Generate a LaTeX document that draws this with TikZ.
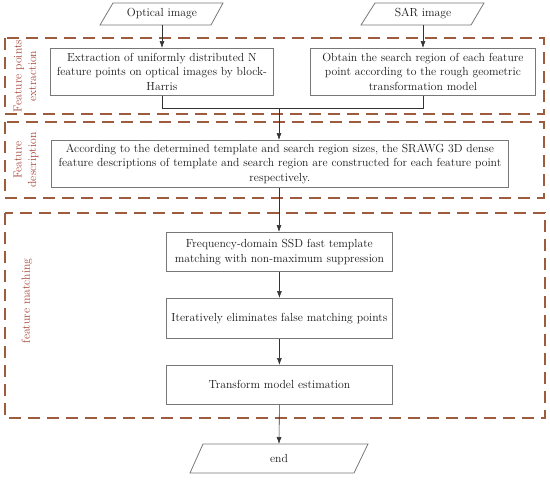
\documentclass[tikz,border=0pt]{standalone}
\usetikzlibrary{arrows.meta}
\definecolor{dashbrown}{RGB}{158,92,62}
\definecolor{labred}{RGB}{165,72,58}
\definecolor{boxgray}{RGB}{120,120,120}
\begin{document}
\begin{tikzpicture}[x=1pt,y=-1pt,
  every node/.style={font=\fontsize{11.7}{14.5}\selectfont, inner sep=0pt, text=black!90},
  procbox/.style={draw=boxgray, line width=0.8pt, align=center, anchor=north west},
  grp/.style={draw=dashbrown, line width=1.8pt, dash pattern=on 12pt off 7pt},
  grplabel/.style={text=labred, rotate=90, align=center},
  conn/.style={draw=black!80, line width=0.6pt},
  arr/.style={conn, -{Latex[length=7pt,width=5pt]}},
  para/.style={draw=boxgray, line width=0.8pt}
]
\useasboundingbox (0,0) rectangle (550,480);

% group frames
\draw[grp] (5,38) rectangle (544,114);
\draw[grp] (5,122) rectangle (544,198);
\draw[grp] (5,213) rectangle (545,418);

\node[grplabel] (lab1) at (25,76) {Feature points\\extraction};
\node[grplabel] (lab2) at (26,160) {Feature\\description};
\node[grplabel] (lab3) at (27,301) {feature matching};

% inputs
\draw[para] (113,3) -- (223,3) -- (211,25) -- (100,25) -- cycle;
\node (opt) at (162,14) {Optical image};
\coordinate (optb) at (162,25);
\draw[para] (375,3) -- (484,3) -- (471,25) -- (361,25) -- cycle;
\node (sar) at (423,14) {SAR image};
\coordinate (sarb) at (423,25);

% boxes
\node[procbox, minimum width=223pt, minimum height=47pt] (b1) at (50,48) {};
\node (t1) at (b1.center) [align=center] {Extraction of uniformly distributed N\\feature points on optical images by block-\\Harris};
\node[procbox, minimum width=225pt, minimum height=47pt] (b2) at (310,48) {};
\node (t2) at (b2.center) [align=center] {Obtain the search region of each feature\\point according to the rough geometric\\transformation model};
\node[procbox, minimum width=457pt, minimum height=47pt] (b3) at (51,140) {};
\node (t3) at (b3.center) [align=center] {According to the determined template and search region sizes, the SRAWG 3D dense\\feature descriptions of template and search region are constructed for each feature point\\respectively.};
\node[procbox, minimum width=226pt, minimum height=39pt] (b4) at (166,232) {};
\node (t4) at (b4.center) [align=center] {Frequency-domain SSD fast template\\matching with non-maximum suppression};
\node[procbox, minimum width=226pt, minimum height=40pt] (b5) at (166,298) {};
\node (t5) at (b5.center) {Iteratively eliminates false matching points};
\node[procbox, minimum width=226pt, minimum height=39pt] (b6) at (166,365) {};
\node (t6) at (b6.center) {Transform model estimation};

% end
\draw[para] (203,444) -- (368,444) -- (354,473) -- (190,473) -- cycle;
\node (endn) at (279,458.5) {end};
\coordinate (endt) at (279,444);

% connectors
\coordinate (m1) at (162,108);
\coordinate (m2) at (423,108);
\coordinate (mm) at (279,108);
\draw[arr] (optb) -- (162,48);
\draw[arr] (sarb) -- (423,48);
\draw[conn] (b1.south -| m1) -- (m1) -- (m2) -- (b2.south -| m2);
\draw[arr] (mm) -- (b3.north -| mm);
\draw[arr] (b3.south -| mm) -- (b4.north -| mm);
\draw[arr] (b4.south) -- (b5.north);
\draw[arr] (b5.south) -- (b6.north);
\draw[arr] (b6.south) -- (endt);
\end{tikzpicture}
\end{document}
